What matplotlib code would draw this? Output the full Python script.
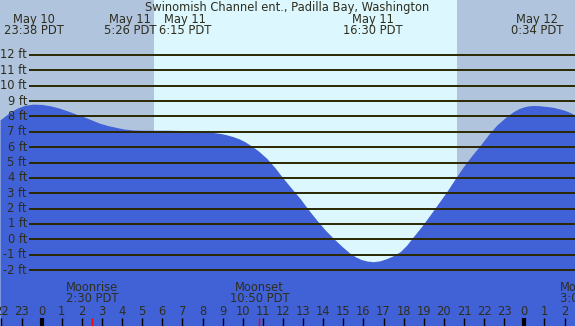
import matplotlib
matplotlib.use("Agg")
import matplotlib.pyplot as plt
import matplotlib.transforms as mtransforms

# tide curve, hours from May 11 0:00 PDT, height in ft
tide_hours = [-2.07, -1.65, -1.24, -0.85, -0.43, 0.00, 0.40, 0.85, 1.26, 1.65, 2.08,
              2.50, 2.90, 3.30, 3.72, 4.10, 4.54, 5.00, 5.40, 5.80, 6.23, 6.65,
              7.05, 7.45, 7.87, 8.20, 8.55, 8.90, 9.21, 9.50, 9.80, 10.08, 10.36,
              10.78, 11.19, 11.60, 12.01, 12.42, 12.84, 13.25, 13.67, 14.08, 14.50,
              14.92, 15.33, 15.62, 15.90, 16.20, 16.49, 16.82, 17.15, 17.48, 17.83,
              18.15, 18.48, 18.90, 19.31, 19.72, 20.14, 20.55, 20.97, 21.40, 21.82,
              22.22, 22.63, 23.05, 23.45, 23.75, 24.00, 24.22, 24.45, 24.72, 25.00,
              25.22, 25.44, 25.72, 26.00, 26.26, 26.52]
tide_ft = [7.77, 8.20, 8.53, 8.72, 8.80, 8.78, 8.70, 8.55, 8.37, 8.18, 7.98,
           7.76, 7.55, 7.40, 7.28, 7.18, 7.12, 7.10, 7.10, 7.10, 7.10, 7.09,
           7.08, 7.06, 7.03, 6.99, 6.95, 6.89, 6.80, 6.69, 6.55, 6.37, 6.14,
           5.75, 5.27, 4.66, 3.97, 3.32, 2.67, 1.95, 1.26, 0.63, 0.07,
           -0.45, -0.91, -1.15, -1.32, -1.42, -1.46, -1.40, -1.26, -1.07, -0.80,
           -0.38, 0.17, 0.85, 1.58, 2.33, 3.10, 3.92, 4.73, 5.47, 6.14,
           6.82, 7.44, 7.92, 8.31, 8.52, 8.63, 8.69, 8.71, 8.70, 8.66,
           8.63, 8.59, 8.50, 8.40, 8.26, 8.09]

sunrise = 5.58
sunset = 20.65
moon_events = [("Moonrise", "2:30 PDT", 2.50), ("Moonset", "10:50 PDT", 10.83),
               ("Moonrise", "3:05 PDT", 27.08)]
tide_dates = ["May 10", "May 11", "May 11", "May 11", "May 12"]
tide_times = ["23:38 PDT", "5:26 PDT", "6:15 PDT", "16:30 PDT", "0:34 PDT"]
ft_levels = list(range(-2, 13))
hour_ticks = list(range(-2, 27))
title = "Swinomish Channel ent., Padilla Bay, Washington"

# layout (pixel geometry of the 575x326 image)
W, H = 575, 326
x0_px, px_per_h = 41.7, 20.11
y0_px, px_per_ft = 239.3, 15.36


def hx(px):
    return (px - x0_px) / px_per_h


def fy(py):
    return (y0_px - py) / px_per_ft


night_c = "#b0c4de"
day_c = "#ddf7fe"
water_c = "#4161d6"
line_c = "#2b2800"
text_c = "#2e2e1e"
fs = 8.3

fig = plt.figure(figsize=(W / 100, H / 100), dpi=100)
ax = fig.add_axes([0, 0, 1, 1])
ax.set_xlim(hx(0), hx(W))
ax.set_ylim(fy(H), fy(0))
ax.axvspan(hx(0), sunrise, color=night_c, lw=0, zorder=0)
ax.axvspan(sunrise, sunset, color=day_c, lw=0, zorder=0)
ax.axvspan(sunset, hx(W), color=night_c, lw=0, zorder=0)

ax.fill_between(tide_hours, tide_ft, fy(H), color=water_c, lw=0, zorder=1)

ax.hlines(ft_levels, hx(29), hx(W), colors=line_c, lw=1.4, zorder=2)
for v in ft_levels:
    ax.text(hx(27), v, f"{v} ft", ha="right", va="center", fontsize=fs, color=text_c)

# hours along the bottom
trans = mtransforms.blended_transform_factory(ax.transData, ax.transAxes)
for h in hour_ticks:
    lab = h % 24
    ax.text(h, 1 - 311.5 / H, str(lab), ha="center", va="center", fontsize=fs,
            color=text_c, transform=trans)
    ax.plot([h, h], [0, 1 - 318 / H], transform=trans, color="black",
            lw=3 if lab == 0 else 1, solid_capstyle="butt", zorder=3)

for name, t, h in moon_events:
    ax.plot([h, h], [0, 1 - 318 / H], transform=trans, color="red", lw=1,
            solid_capstyle="butt", zorder=4)
    ax.text(h, 1 - 287.5 / H, name, ha="center", va="center", fontsize=fs,
            color=text_c, transform=trans)
    ax.text(h, 1 - 299 / H, t, ha="center", va="center", fontsize=fs,
            color=text_c, transform=trans)

# tide event labels at top (nudged apart where they crowd)
label_x = [34, 130, 185, 373, 537]
for d, t, px in zip(tide_dates, tide_times, label_x):
    ax.text(hx(px), 1 - 19 / H, d, ha="center", va="center", fontsize=fs,
            color=text_c, transform=trans)
    ax.text(hx(px), 1 - 31 / H, t, ha="center", va="center", fontsize=fs,
            color=text_c, transform=trans)

ax.text(hx(287), 1 - 7 / H, title, ha="center", va="center", fontsize=fs,
        color=text_c, transform=trans)

ax.set_axis_off()
fig.savefig("out.png", dpi=100)
